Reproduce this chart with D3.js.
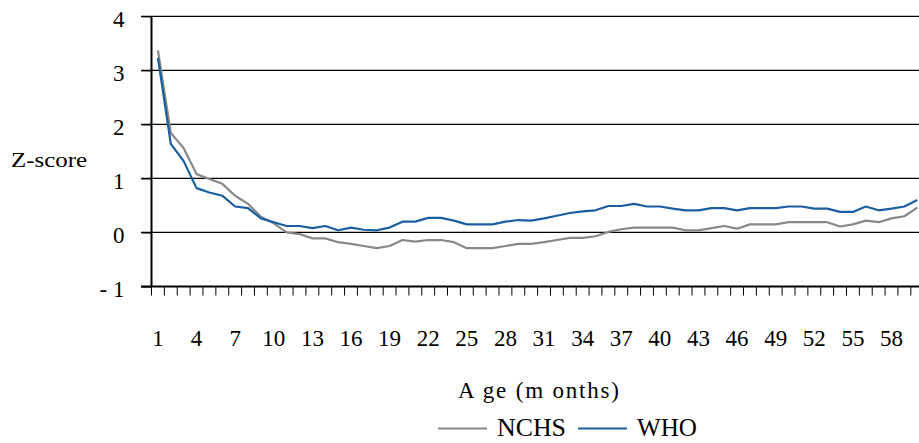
<!DOCTYPE html>
<html>
<head>
<meta charset="utf-8">
<script src="https://cdn.jsdelivr.net/npm/d3@7"></script>
<style>
html,body{margin:0;padding:0;background:#fff;overflow:hidden;}
svg{display:block;}
</style>
</head>
<body>
<svg id="chart" width="919" height="443"></svg>
<script>
const months = d3.range(1, 61);
const nchs = [3.37,1.84,1.56,1.08,0.99,0.90,0.68,0.53,0.29,0.17,
              0.00,-0.03,-0.11,-0.11,-0.18,-0.21,-0.25,-0.29,-0.25,-0.14,
              -0.17,-0.14,-0.14,-0.18,-0.29,-0.29,-0.29,-0.25,-0.21,-0.21,
              -0.18,-0.14,-0.10,-0.10,-0.07,0.01,0.06,0.09,0.09,0.09,
              0.09,0.04,0.04,0.08,0.12,0.07,0.15,0.15,0.15,0.19,
              0.19,0.19,0.19,0.11,0.15,0.22,0.19,0.26,0.30,0.46];
const who = [3.23,1.64,1.32,0.82,0.74,0.68,0.48,0.45,0.26,0.19,
             0.12,0.12,0.08,0.12,0.04,0.09,0.05,0.04,0.09,0.20,
             0.20,0.27,0.27,0.22,0.15,0.15,0.15,0.20,0.23,0.22,
             0.26,0.31,0.36,0.39,0.41,0.49,0.49,0.53,0.48,0.48,
             0.44,0.41,0.41,0.45,0.45,0.41,0.45,0.45,0.45,0.48,
             0.48,0.44,0.44,0.38,0.38,0.48,0.41,0.44,0.48,0.60];
const yTicks = [-1,0,1,2,3,4];
const yTickLabels = ["- 1","0","1","2","3","4"];
const xTickLabels = [1,4,7,10,13,16,19,22,25,28,31,34,37,40,43,46,49,52,55,58];
const seriesNames = ["NCHS","WHO"];
const seriesColors = ["#888888","#1b5e9f"];

(function(){
const FONT = "Liberation Serif";
const svg = d3.select("#chart");
const left = 151.5, plotTop = 16.3, plotBottom = 286.5, bandW = 12.87;
const x = d3.scaleBand().domain(months).range([left, left + bandW*months.length]).padding(0);
const y = d3.scaleLinear().domain([-1,4]).range([plotBottom, plotTop]);

// gridlines
svg.append("g").selectAll("line").data(yTicks.filter(d=>d!==-1)).join("line")
  .attr("x1", 141).attr("x2", 919)
  .attr("y1", d=>y(d)).attr("y2", d=>y(d))
  .attr("stroke", "#000").attr("stroke-width", 1.2);

// y axis
const yAxis = d3.axisLeft(y).tickValues(yTicks).tickSize(10).tickFormat((d,i)=>yTickLabels[i]);
const gy = svg.append("g").attr("transform", `translate(${left},0)`).call(yAxis);
gy.attr("font-family", FONT);
gy.select(".domain").attr("stroke","#000").attr("stroke-width",2).attr("d", `M0,${plotTop}V${plotBottom}`);
gy.selectAll(".tick line").attr("stroke","#000").attr("stroke-width",1.2);
gy.selectAll(".tick text").attr("x", -27).attr("dy", "0.45em")
  .attr("font-size", 23).attr("fill","#000").attr("font-family", FONT);

// x axis
const xAxis = d3.axisBottom(x).tickSize(0).tickFormat(d => xTickLabels.includes(d) ? d : "");
const gx = svg.append("g").attr("transform", `translate(0,${plotBottom})`).call(xAxis);
gx.attr("font-family", FONT);
gx.select(".domain").attr("stroke","#000").attr("stroke-width",2).attr("d", `M141,0H919`);
gx.selectAll(".tick text").attr("y", 59).attr("dy", 0)
  .attr("font-size", 23).attr("fill","#000").attr("font-family", FONT);
// tick marks at band boundaries
svg.append("g").selectAll("line").data(months).join("line")
  .attr("x1", d=>x(d)).attr("x2", d=>x(d))
  .attr("y1", plotBottom).attr("y2", plotBottom + 9)
  .attr("stroke","#000").attr("stroke-width",1);

// lines
const line = d3.line().x((d,i)=>x(months[i]) + x.bandwidth()/2).y(d=>y(d));
[nchs, who].forEach((s,i)=>{
  svg.append("path").datum(s).attr("d", line).attr("fill","none")
    .attr("stroke", seriesColors[i]).attr("stroke-width", 2.2).attr("stroke-linejoin","round");
});

// y title
svg.append("text").attr("x", 11).attr("y", 167).attr("font-size", 22)
  .attr("font-family", FONT).attr("textLength", 76).attr("lengthAdjust","spacingAndGlyphs").text("Z-score");
// x title
svg.append("text").attr("x", 458).attr("y", 398)
  .attr("font-size", 23).attr("font-family", FONT)
  .attr("textLength", 161).attr("lengthAdjust","spacing").text("A ge (m onths)");

// legend
const legX = [438, 578];
const legW = [69, 60];
seriesNames.forEach((n,i)=>{
  svg.append("line").attr("x1", legX[i]).attr("x2", legX[i]+49).attr("y1", 428.5).attr("y2", 428.5)
    .attr("stroke", seriesColors[i]).attr("stroke-width", 2.2);
  svg.append("text").attr("x", legX[i]+59).attr("y", 436).attr("font-size", 25)
    .attr("font-family", FONT).attr("textLength", legW[i]).attr("lengthAdjust","spacingAndGlyphs").text(n);
});
})();
</script>
</body>
</html>
